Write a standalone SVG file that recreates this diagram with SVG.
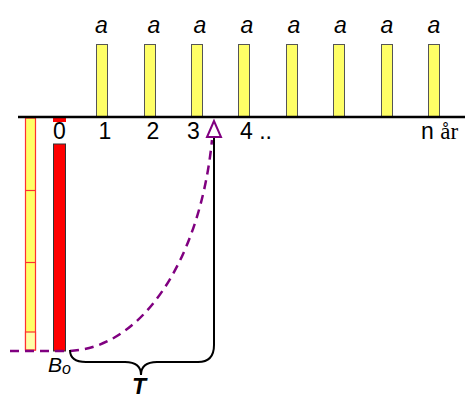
<svg xmlns="http://www.w3.org/2000/svg" width="465" height="394" viewBox="0 0 465 394">
<style>
.pay{fill:#ffff66;stroke:#555;stroke-width:1}
.lbl{font-family:"Liberation Sans",Arial,sans-serif;font-size:23px;fill:#000}
.a{font-style:italic;font-size:23px}
.dash{fill:none;stroke:#800080;stroke-width:2.5;stroke-dasharray:9,6}
</style>
<rect width="465" height="394" fill="#fff"/>
<g id="payments">
<rect class="pay" x="96.5" y="44.5" width="11" height="73"/>
<rect class="pay" x="144.5" y="44.5" width="11" height="73"/>
<rect class="pay" x="191.5" y="44.5" width="11" height="73"/>
<rect class="pay" x="238.5" y="44.5" width="11" height="73"/>
<rect class="pay" x="286.5" y="44.5" width="11" height="73"/>
<rect class="pay" x="333.5" y="44.5" width="11" height="73"/>
<rect class="pay" x="381.5" y="44.5" width="11" height="73"/>
<rect class="pay" x="428.5" y="44.5" width="11" height="73"/>
</g>
<g id="a-labels" class="lbl a">
<text x="101.5" y="33" text-anchor="middle">a</text>
<text x="154" y="33" text-anchor="middle">a</text>
<text x="200" y="33" text-anchor="middle">a</text>
<text x="247" y="33" text-anchor="middle">a</text>
<text x="294" y="33" text-anchor="middle">a</text>
<text x="340.5" y="33" text-anchor="middle">a</text>
<text x="387" y="33" text-anchor="middle">a</text>
<text x="434" y="33" text-anchor="middle">a</text>
</g>
<g id="stack">
<rect x="25.5" y="118" width="10" height="232" fill="#ffff66" stroke="#ff3030" stroke-width="1.2"/>
<rect x="25.5" y="332" width="10" height="18" fill="#ffffa8" stroke="#ff3030" stroke-width="1.2"/>
<line x1="25.5" y1="190.5" x2="35.5" y2="190.5" stroke="#ff3030" stroke-width="1.2"/>
<line x1="25.5" y1="262.5" x2="35.5" y2="262.5" stroke="#ff3030" stroke-width="1.2"/>
</g>
<g id="B0-bar">
<rect x="53" y="117" width="13" height="5" fill="#ff0000"/>
<rect x="53.5" y="144" width="12" height="207" fill="#ff0000" stroke="#333" stroke-width="1"/>
</g>
<g id="axis">
<line x1="18" y1="117" x2="465" y2="117" stroke="#000" stroke-width="2.5"/>
</g>
<g id="axis-labels" class="lbl">
<text x="59.5" y="138.5" text-anchor="middle">0</text>
<text x="105" y="138.5" text-anchor="middle">1</text>
<text x="153" y="138.5" text-anchor="middle">2</text>
<text x="193.5" y="138.5" text-anchor="middle">3</text>
<text x="240" y="138.5">4 ..</text>
<text x="421" y="138.5">n <tspan font-family="'Liberation Serif','Times New Roman',serif">år</tspan></text>
</g>
<g id="connectors">
<path class="dash" d="M10,351 L66,351 C140,351 200,262 212,140"/>
<path d="M214,137 L214,345 Q214,362 198,362 L157,362 Q141,362 141,375 Q141,362 125,362 L86,362 Q70,362 70,350" fill="none" stroke="#000" stroke-width="2"/>
<polygon points="214,121 207,137 221,137" fill="#fff" stroke="#800080" stroke-width="2"/>
</g>
<g id="labels" class="lbl">
<text x="48" y="372" font-style="italic" font-size="21">B<tspan font-size="16" dy="2">o</tspan></text>
<text x="139" y="395" text-anchor="middle" font-style="italic" font-weight="bold" font-size="23">T</text>
</g>
</svg>
